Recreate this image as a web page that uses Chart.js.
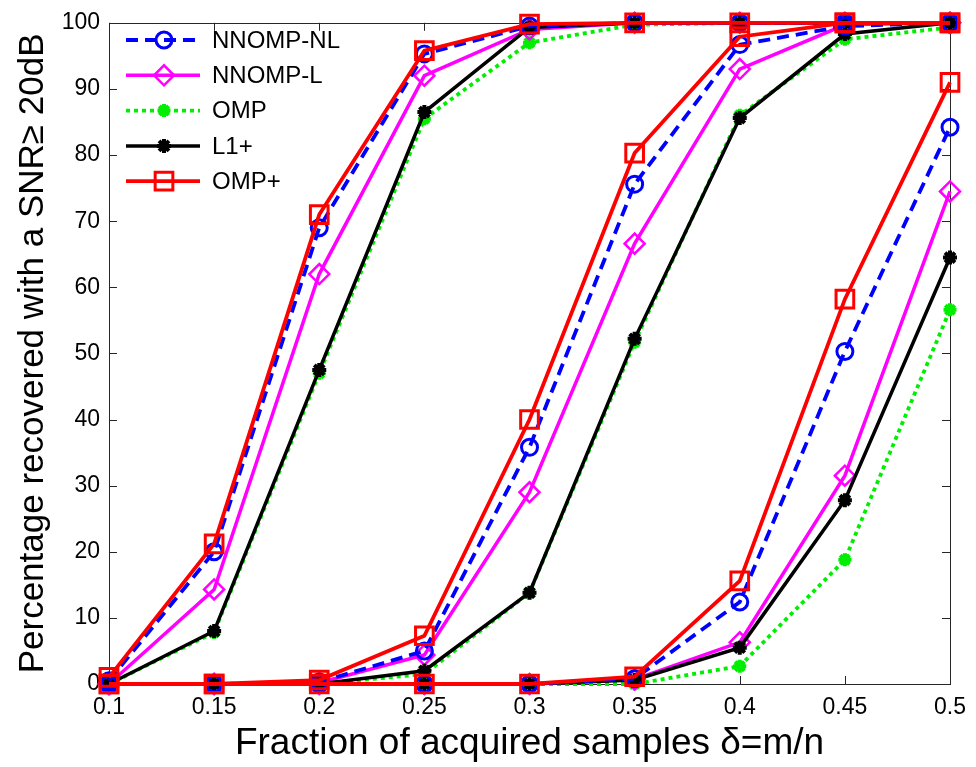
<!DOCTYPE html>
<html><head><meta charset="utf-8">
<script src="https://cdn.jsdelivr.net/npm/chart.js@4/dist/chart.umd.min.js"></script>
<style>html,body{margin:0;padding:0;background:#fff}#wrap{width:976px;height:767px}</style>
</head><body><div id="wrap"><canvas id="c" width="976" height="767"></canvas></div>
<script>
// ---- data ----
const xValues = [0.1, 0.15, 0.2, 0.25, 0.3, 0.35, 0.4, 0.45, 0.5];
const xTickLabels = ['0.1', '0.15', '0.2', '0.25', '0.3', '0.35', '0.4', '0.45', '0.5'];
const yTickValues = [0, 10, 20, 30, 40, 50, 60, 70, 80, 90, 100];
const methodNames = ['NNOMP-NL', 'NNOMP-L', 'OMP', 'L1+', 'OMP+'];
const xTitle = 'Fraction of acquired samples \u03B4=m/n';
const yTitle = 'Percentage recovered with a SNR\u2265 20dB';

// group 1 (left curves)
const nnompNL_1 = [0.5, 20, 69, 95.3, 99.5, 100, 100, 100, 100];
const nnompL_1  = [0, 14.3, 62, 92, 99, 100, 100, 100, 100];
const omp_1     = [0, 7.8, 47, 85.5, 97, 99.7, 100, 100, 100];
const l1plus_1  = [0, 8, 47.5, 86.5, 99.3, 100, 100, 100, 100];
const ompPlus_1 = [1, 21.2, 71, 95.8, 99.8, 100, 100, 100, 100];
// group 2 (middle curves)
const nnompNL_2 = [0, 0, 0.3, 5, 35.8, 75.6, 96.7, 99.5, 100];
const nnompL_2  = [0, 0, 0.2, 4.4, 29, 66.6, 93, 99.7, 100];
const omp_2     = [0, 0, 0, 1.5, 13.8, 51.7, 86, 97.5, 99.3];
const l1plus_2  = [0, 0, 0, 2, 13.8, 52.2, 85.6, 98.3, 100];
const ompPlus_2 = [0, 0, 0.6, 7.3, 40, 80.3, 97.9, 100, 100];
// group 3 (right curves)
const nnompNL_3 = [0, 0, 0, 0, 0, 0.8, 12.4, 50.3, 84.2];
const nnompL_3  = [0, 0, 0, 0, 0, 0.7, 6.3, 31.5, 74.5];
const omp_3     = [0, 0, 0, 0, 0, 0, 2.7, 18.8, 56.6];
const l1plus_3  = [0, 0, 0, 0, 0, 0.6, 5.5, 27.8, 64.5];
const ompPlus_3 = [0, 0, 0, 0, 0, 1.1, 15.6, 58.2, 91];

// ---- styles ----
const FONT = '"Liberation Sans", Arial, Helvetica, sans-serif';
const styles = {
  'NNOMP-NL': {color: '#0000ff', dash: [12, 7], width: 3.8, point: 'circle', r: 8, pbw: 3, fill: 'rgba(0,0,0,0)', order: 2},
  'NNOMP-L':  {color: '#ff00ff', dash: [], width: 3.5, point: 'rectRot', r: 10, pbw: 2.5, fill: 'rgba(0,0,0,0)', order: 4},
  'OMP':      {color: '#00ee00', dash: [4, 4], width: 3.8, point: 'star', r: 6.5, pbw: 4, fill: '#00ee00', order: 5},
  'L1+':      {color: '#000000', dash: [], width: 3.5, point: 'star', r: 7, pbw: 4, fill: '#000000', order: 3},
  'OMP+':     {color: '#ff0000', dash: [], width: 3.8, point: 'rect', r: 12.5, pbw: 3, fill: 'rgba(0,0,0,0)', order: 1}
};

const seriesByMethod = {
  'NNOMP-NL': [nnompNL_1, nnompNL_2, nnompNL_3],
  'NNOMP-L':  [nnompL_1, nnompL_2, nnompL_3],
  'OMP':      [omp_1, omp_2, omp_3],
  'L1+':      [l1plus_1, l1plus_2, l1plus_3],
  'OMP+':     [ompPlus_1, ompPlus_2, ompPlus_3]
};

const datasets = [];
methodNames.forEach(name => {
  const s = styles[name];
  seriesByMethod[name].forEach((vals, gi) => {
    datasets.push({
      label: name,
      data: xValues.map((x, i) => ({x: x, y: vals[i]})),
      borderColor: s.color,
      borderWidth: s.width,
      borderDash: s.dash,
      borderCapStyle: 'butt',
      backgroundColor: s.fill,
      pointStyle: s.point,
      pointRadius: s.r,
      pointBorderWidth: s.pbw,
      pointBorderColor: s.color,
      pointBackgroundColor: s.fill,
      tension: 0,
      fill: false,
      clip: false,
      order: s.order
    });
  });
});

// frame + inside ticks
const framePlugin = {
  id: 'frame',
  beforeDatasetsDraw(chart) {
    const {ctx, chartArea: a, scales} = chart;
    ctx.save();
    ctx.strokeStyle = '#262626';
    ctx.lineWidth = 1;
    ctx.strokeRect(Math.round(a.left) + 0.5, Math.round(a.top) + 0.5, Math.round(a.right - a.left), Math.round(a.bottom - a.top));
    const L = 8;
    ctx.beginPath();
    scales.x.ticks.forEach(t => {
      const px = Math.round(scales.x.getPixelForValue(t.value)) + 0.5;
      ctx.moveTo(px, a.bottom); ctx.lineTo(px, a.bottom - L);
      ctx.moveTo(px, a.top); ctx.lineTo(px, a.top + L);
    });
    scales.y.ticks.forEach(t => {
      const py = Math.round(scales.y.getPixelForValue(t.value)) + 0.5;
      ctx.moveTo(a.left, py); ctx.lineTo(a.left + L, py);
      ctx.moveTo(a.right, py); ctx.lineTo(a.right - L, py);
    });
    ctx.stroke();
    ctx.restore();
  }
};

// custom legend inside the plot
const legendPlugin = {
  id: 'insideLegend',
  afterDatasetsDraw(chart) {
    const ctx = chart.ctx;
    const x0 = 126, x1 = 200, xm = 164, xt = 212, y0 = 40, dy = 35.3;
    ctx.save();
    methodNames.forEach((name, i) => {
      const s = styles[name];
      const y = y0 + i * dy;
      ctx.strokeStyle = s.color;
      ctx.lineWidth = s.width;
      ctx.setLineDash(s.dash);
      ctx.lineCap = 'butt';
      ctx.beginPath(); ctx.moveTo(x0, y); ctx.lineTo(x1, y); ctx.stroke();
      ctx.setLineDash([]);
      ctx.fillStyle = s.fill;
      ctx.strokeStyle = s.color;
      ctx.lineWidth = s.pbw;
      Chart.helpers.drawPoint(ctx, {pointStyle: s.point, radius: s.r, borderWidth: s.pbw, rotation: 0}, xm, y);
      ctx.fillStyle = '#000';
      ctx.font = '24px ' + FONT;
      ctx.textAlign = 'left';
      ctx.textBaseline = 'middle';
      ctx.fillText(name, xt, y + 1);
    });
    ctx.restore();
  }
};

new Chart(document.getElementById('c'), {
  type: 'line',
  data: {datasets},
  plugins: [framePlugin, legendPlugin],
  options: {
    responsive: false,
    devicePixelRatio: 1,
    animation: false,
    events: [],
    layout: {padding: {left: 0, right: 19, top: 16, bottom: 0}},
    plugins: {legend: {display: false}, tooltip: {enabled: false}},
    scales: {
      x: {
        type: 'linear', min: 0.1, max: 0.5,
        grid: {display: false, drawTicks: false},
        border: {display: false},
        afterBuildTicks(scale) { scale.ticks = xValues.map(v => ({value: v})); },
        afterFit(scale) { scale.height = 83; },
        ticks: {
          color: '#000', padding: 10, maxRotation: 0, autoSkip: false,
          font: {family: FONT, size: 23},
          callback: (v, i) => xTickLabels[i]
        },
        title: {display: true, text: xTitle, color: '#000', font: {family: FONT, size: 37}, padding: {top: 0, bottom: 1}}
      },
      y: {
        type: 'linear', min: 0, max: 100,
        grid: {display: false, drawTicks: false},
        border: {display: false},
        afterBuildTicks(scale) { scale.ticks = yTickValues.map(v => ({value: v})); },
        afterFit(scale) { scale.width = 109; },
        ticks: {color: '#000', padding: 9, font: {family: FONT, size: 23}},
        title: {display: true, text: yTitle, color: '#000', font: {family: FONT, size: 35}, padding: {top: 12, bottom: 0}}
      }
    }
  }
});
</script></body></html>
